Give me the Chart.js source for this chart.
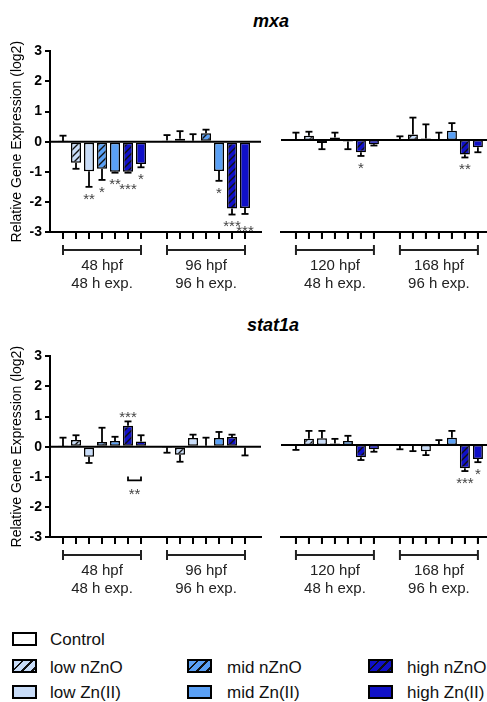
<!DOCTYPE html>
<html>
<head>
<meta charset="utf-8">
<script src="https://cdn.jsdelivr.net/npm/chart.js"></script>
<style>
  html, body { margin: 0; padding: 0; background: #fff; }
  body { width: 487px; height: 702px; position: relative; overflow: hidden;
         font-family: 'Liberation Sans', Arial, sans-serif; color: #111; }
  canvas { position: absolute; }
  .title { position: absolute; font: italic bold 18px 'Liberation Sans', Arial, sans-serif; line-height: 18px; color: #000; white-space: nowrap; }
  .sw { position: absolute; width: 21px; height: 10px; border: 2px solid #000; }
  .lt { position: absolute; font-size: 17px; line-height: 17px; color: #111; white-space: nowrap; }
</style>
</head>
<body>
<div class="title" style="left:253px; top:12px;">mxa</div>
<div class="title" style="left:247px; top:316px;">stat1a</div>
<canvas id="c1" width="266" height="262" style="left:0px; top:40px;"></canvas>
<canvas id="c2" width="211" height="262" style="left:276px; top:40px;"></canvas>
<canvas id="c3" width="266" height="262" style="left:0px; top:345px;"></canvas>
<canvas id="c4" width="211" height="262" style="left:276px; top:345px;"></canvas>
<div id="legend"></div>
<script>
// ---------------- data ----------------
const treatments = ['Control', 'low nZnO', 'low Zn(II)', 'mid nZnO', 'mid Zn(II)', 'high nZnO', 'high Zn(II)'];
const groupLine1 = ['48 hpf', '96 hpf', '120 hpf', '168 hpf'];
const groupLine2 = ['48 h exp.', '96 h exp.', '48 h exp.', '96 h exp.'];
const yTicks = [-3, -2, -1, 0, 1, 2, 3];
const yTitle = 'Relative Gene Expression (log2)';

// mxa: bar means, error-bar tips, significance
const mxa48Mean  = [0.02, -0.70, -0.98, -0.90, -1.00, -1.00, -0.74];
const mxa48Tip   = [0.20, -0.90, -1.50, -1.27, -1.03, -1.03, -0.85];
const mxa48Sig   = ['', '', '**', '*', '**', '***', '*'];
const mxa96Mean  = [0.04, 0.10, 0.03, 0.28, -0.97, -2.22, -2.20];
const mxa96Tip   = [0.22, 0.35, 0.25, 0.40, -1.30, -2.42, -2.40];
const mxa96Sig   = ['', '', '', '', '*', '***', '***'];
const mxa120Mean = [0.03, 0.14, -0.10, 0.08, -0.05, -0.40, -0.14];
const mxa120Tip  = [0.24, 0.27, -0.30, 0.24, -0.30, -0.52, -0.18];
const mxa120Sig  = ['', '', '', '', '', '*', ''];
const mxa168Mean = [0.01, 0.18, 0.05, 0.02, 0.30, -0.47, -0.24];
const mxa168Tip  = [0.12, 0.73, 0.51, 0.24, 0.55, -0.57, -0.40];
const mxa168Sig  = ['', '', '', '', '', '**', ''];

// stat1a
const stat48Mean  = [0.01, 0.22, -0.33, 0.16, 0.19, 0.70, 0.17];
const stat48Tip   = [0.30, 0.38, -0.54, 0.63, 0.33, 0.84, 0.38];
const stat48Sig   = ['', '', '', '', '', '***', ''];
const stat96Mean  = [-0.02, -0.27, 0.29, 0.03, 0.29, 0.32, -0.03];
const stat96Tip   = [-0.20, -0.50, 0.40, 0.30, 0.49, 0.40, -0.29];
const stat96Sig   = ['', '', '', '', '', '', ''];
const stat120Mean = [-0.02, 0.20, 0.22, 0.05, 0.13, -0.40, -0.14];
const stat120Tip  = [-0.16, 0.46, 0.46, 0.20, 0.30, -0.49, -0.22];
const stat120Sig  = ['', '', '', '', '', '', ''];
const stat168Mean = [-0.02, -0.03, -0.20, 0.03, 0.24, -0.76, -0.46];
const stat168Tip  = [-0.14, -0.20, -0.33, 0.16, 0.46, -0.85, -0.56];
const stat168Sig  = ['', '', '', '', '', '***', '*'];
// comparison bracket (stat1a, 48 hpf, high nZnO vs high Zn(II))
const stat48Compare = { from: 5, to: 6, level: -1.12, sig: '**' };

// ---------------- styles ----------------
const FONT = "'Liberation Sans', Arial, sans-serif";
const cLow = '#c8dcf8', cMid = '#5aa0f5', cHigh = '#1010c8';

function hatch(bg, size) {
  const c = document.createElement('canvas');
  c.width = size; c.height = size;
  const g = c.getContext('2d');
  g.fillStyle = bg; g.fillRect(0, 0, size, size);
  g.strokeStyle = '#111'; g.lineWidth = 1.4;
  g.beginPath();
  g.moveTo(0, size); g.lineTo(size, 0);
  g.moveTo(-2, 2); g.lineTo(2, -2);
  g.moveTo(size - 2, size + 2); g.lineTo(size + 2, size - 2);
  g.stroke();
  return g.createPattern(c, 'repeat');
}
const fills = ['#ffffff', hatch(cLow, 7), cLow, hatch(cMid, 7), cMid, hatch(cHigh, 7), cHigh];

function annotPlugin(groups, means, tips, sigs, compare, positions) {
  return {
    id: 'annot',
    afterDatasetsDraw(chart) {
      const ctx = chart.ctx, xs = chart.scales.x, ys = chart.scales.y, ca = chart.chartArea;
      const ln = (a, b, c, d) => { ctx.beginPath(); ctx.moveTo(a, b); ctx.lineTo(c, d); ctx.stroke(); };
      ctx.save();
      ctx.strokeStyle = '#000'; ctx.lineWidth = 2; ctx.lineCap = 'butt';
      const y0 = ys.getPixelForValue(0);
      ln(ca.left, y0, ca.right, y0);
      // bottom axis line (value -3) and tick marks at the bar positions
      const yb = ys.getPixelForValue(-3);
      ctx.fillStyle = '#000';
      ctx.fillRect(ca.left - 1, yb - 1, ca.right - ca.left + 1, 2);
      positions.forEach(v => {
        const x = xs.getPixelForValue(v);
        ctx.fillRect(x - 1, yb, 2, 7);
      });
      // error bars
      ctx.lineWidth = 1.8;
      means.forEach((arr, gi) => {
        arr.forEach((m, ti) => {
          const x = xs.getPixelForValue(gi * 8 + ti + 1);
          const ym = ys.getPixelForValue(m), yt = ys.getPixelForValue(tips[gi][ti]);
          ln(x, ym, x, yt);
          ln(x - 3.5, yt, x + 3.5, yt);
        });
      });
      // significance stars
      const fs = 15;
      ctx.font = fs + 'px ' + FONT; ctx.fillStyle = '#444'; ctx.textAlign = 'center'; ctx.textBaseline = 'alphabetic';
      means.forEach((arr, gi) => {
        let prev = null;
        arr.forEach((m, ti) => {
          const s = sigs[gi][ti];
          if (!s) return;
          const x = xs.getPixelForValue(gi * 8 + ti + 1);
          const below = tips[gi][ti] < m;
          const yt = ys.getPixelForValue(tips[gi][ti]);
          let yc = below ? yt + 8 : yt - 8;
          const w = ctx.measureText(s).width;
          if (prev && prev.below === below && prev.right > x - w / 2 && Math.abs(prev.yc - yc) < 7) {
            yc += below ? 5 : -5;
          }
          ctx.fillText(s, x, yc + 0.58 * fs);
          prev = { below, right: x + w / 2, yc };
        });
      });
      // comparison bracket
      if (compare) {
        const xa = xs.getPixelForValue(compare.gi * 8 + compare.from + 1);
        const xb = xs.getPixelForValue(compare.gi * 8 + compare.to + 1);
        const yy = ys.getPixelForValue(compare.level);
        ctx.strokeStyle = '#000'; ctx.lineWidth = 1.8;
        ctx.beginPath(); ctx.moveTo(xa, yy - 4); ctx.lineTo(xa, yy); ctx.lineTo(xb, yy); ctx.lineTo(xb, yy - 4); ctx.stroke();
        ctx.fillText(compare.sig, (xa + xb) / 2, yy + 10 + 0.58 * fs);
      }
      // group brackets and labels
      ctx.strokeStyle = '#222'; ctx.lineWidth = 2;
      ctx.fillStyle = '#222'; ctx.font = '15px ' + FONT; ctx.textBaseline = 'middle';
      groups.forEach((g, gi) => {
        const xa = xs.getPixelForValue(gi * 8 + 1), xb = xs.getPixelForValue(gi * 8 + 7);
        const ybr = ca.bottom + 18;
        ln(xa, ybr, xb, ybr);
        ln(xa, ybr - 5, xa, ybr + 5);
        ln(xb, ybr - 5, xb, ybr + 5);
        const xm = (xa + xb) / 2;
        ctx.fillText(groupLine1[g], xm, ca.bottom + 34);
        ctx.fillText(groupLine2[g], xm, ca.bottom + 52);
      });
      ctx.restore();
    }
  };
}

function buildChart(id, groups, means, tips, sigs, isLeft, compare) {
  const positions = [];
  groups.forEach((g, gi) => treatments.forEach((t, ti) => positions.push(gi * 8 + ti + 1)));
  const datasets = treatments.map((name, ti) => ({
    label: name,
    data: means.map((arr, gi) => ({ x: gi * 8 + ti + 1, y: arr[ti] })),
    backgroundColor: fills[ti],
    borderColor: '#000',
    borderWidth: 1.5,
    borderSkipped: false,
    grouped: false,
    categoryPercentage: 1,
    barPercentage: 0.77
  }));
  return new Chart(document.getElementById(id), {
    type: 'bar',
    data: { datasets },
    options: {
      responsive: false,
      animation: false,
      devicePixelRatio: 1,
      layout: { padding: { top: 8, right: isLeft ? 5 : 0, left: isLeft ? 0 : 5, bottom: 0 } },
      plugins: { legend: { display: false }, tooltip: { enabled: false } },
      scales: {
        x: {
          type: 'linear',
          display: true,
          min: isLeft ? 0 : -0.15,
          max: isLeft ? 16.23 : 15.7,
          offset: false,
          afterBuildTicks: (s) => { s.ticks = positions.map(v => ({ value: v })); },
          afterFit: (s) => { s.height = 70; },
          ticks: { display: false },
          grid: { display: true, offset: false, drawOnChartArea: false, drawTicks: true, tickLength: 6, color: '#000', lineWidth: 2 },
          border: { display: true, color: '#000', width: 2 }
        },
        y: {
          display: true,
          min: -3, max: 3,
          afterBuildTicks: (s) => { s.ticks = yTicks.map(v => ({ value: v })); },
          afterFit: (s) => { s.width = isLeft ? 50 : 0; },
          ticks: { display: isLeft, color: '#000', font: { family: FONT, size: 14, weight: 'bold' }, padding: 3 },
          grid: { display: isLeft, drawOnChartArea: false, drawTicks: true, tickLength: 5, color: '#000', lineWidth: 2 },
          border: { display: isLeft, color: '#000', width: 2 },
          title: { display: isLeft, text: yTitle, color: '#000', font: { family: FONT, size: 14 }, padding: { top: 9, bottom: 0 } }
        }
      }
    },
    plugins: [annotPlugin(groups, means, tips, sigs, compare, positions)]
  });
}

buildChart('c1', [0, 1], [mxa48Mean, mxa96Mean], [mxa48Tip, mxa96Tip], [mxa48Sig, mxa96Sig], true, null);
buildChart('c2', [2, 3], [mxa120Mean, mxa168Mean], [mxa120Tip, mxa168Tip], [mxa120Sig, mxa168Sig], false, null);
buildChart('c3', [0, 1], [stat48Mean, stat96Mean], [stat48Tip, stat96Tip], [stat48Sig, stat96Sig], true,
  Object.assign({ gi: 0 }, stat48Compare));
buildChart('c4', [2, 3], [stat120Mean, stat168Mean], [stat120Tip, stat168Tip], [stat120Sig, stat168Sig], false, null);

// ---------------- legend (HTML) ----------------
const swatchBg = [
  '#ffffff',
  'repeating-linear-gradient(135deg, ' + cLow + ' 0 5px, #111 5px 7px)', cLow,
  'repeating-linear-gradient(135deg, ' + cMid + ' 0 5px, #111 5px 7px)', cMid,
  'repeating-linear-gradient(135deg, ' + cHigh + ' 0 5px, #111 5px 7px)', cHigh
];
const legendCells = [
  { ti: 0, sx: 12, sy: 632, tx: 50, ty: 631 },
  { ti: 1, sx: 12, sy: 659, tx: 50, ty: 659 },
  { ti: 2, sx: 12, sy: 685, tx: 50, ty: 684 },
  { ti: 3, sx: 187, sy: 659, tx: 227, ty: 659 },
  { ti: 4, sx: 187, sy: 685, tx: 227, ty: 684 },
  { ti: 5, sx: 368, sy: 659, tx: 407, ty: 659 },
  { ti: 6, sx: 368, sy: 685, tx: 407, ty: 684 }
];
const lg = document.getElementById('legend');
legendCells.forEach(c => {
  const s = document.createElement('div');
  s.className = 'sw';
  s.style.left = c.sx + 'px'; s.style.top = c.sy + 'px';
  s.style.background = swatchBg[c.ti];
  lg.appendChild(s);
  const t = document.createElement('div');
  t.className = 'lt';
  t.style.left = c.tx + 'px'; t.style.top = c.ty + 'px';
  t.textContent = treatments[c.ti];
  lg.appendChild(t);
});
</script>
</body>
</html>
